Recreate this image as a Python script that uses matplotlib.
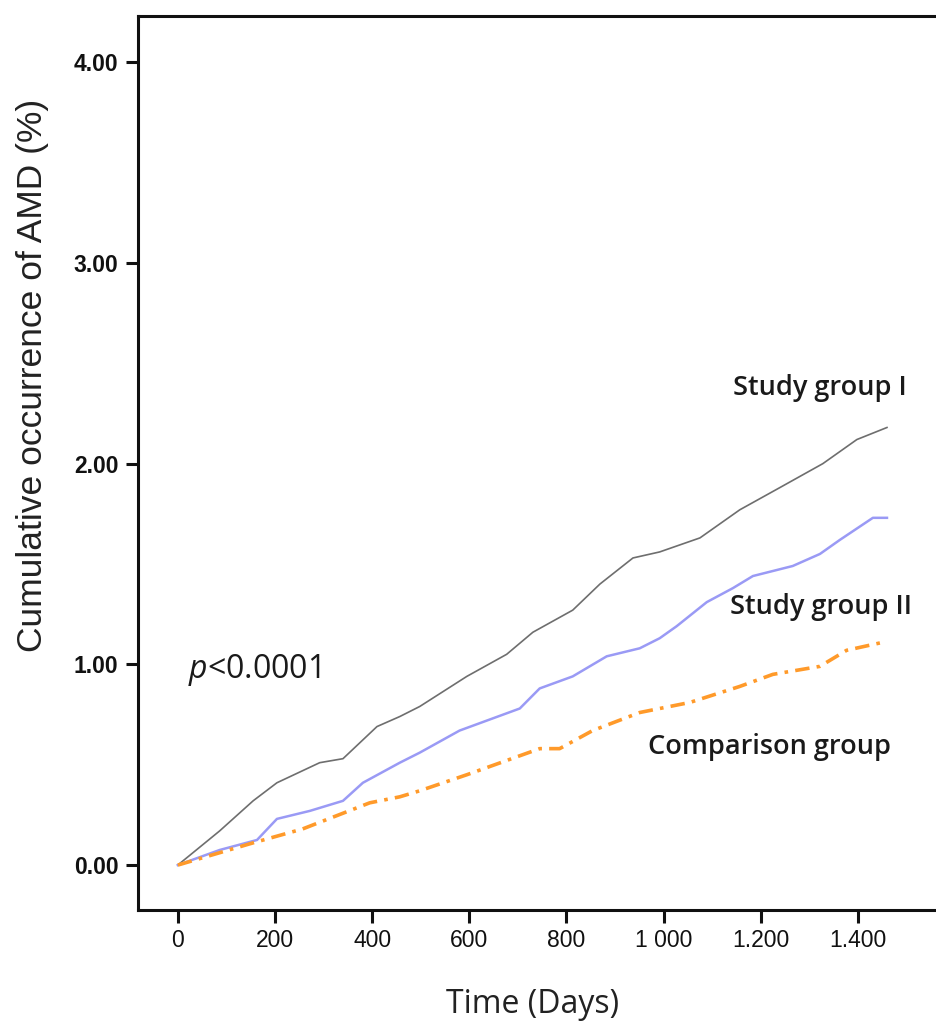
import matplotlib
matplotlib.use('Agg')
from matplotlib import pyplot as plt

# (days, cumulative %)
days_g1 = [0, 86, 155, 204, 292, 340, 410, 457, 498, 595, 677, 731, 813, 869, 937,
           992, 1075, 1157, 1239, 1328, 1398, 1460]
cum_g1 = [0.0, 0.17, 0.32, 0.41, 0.51, 0.53, 0.69, 0.74, 0.79, 0.94, 1.05, 1.16, 1.27,
          1.40, 1.53, 1.56, 1.63, 1.77, 1.88, 2.00, 2.12, 2.18]

days_g2 = [0, 86, 163, 204, 272, 340, 381, 457, 498, 580, 704, 745, 813, 883, 951,
           992, 1027, 1089, 1143, 1184, 1266, 1322, 1363, 1431, 1460]
cum_g2 = [0.0, 0.075, 0.125, 0.23, 0.27, 0.32, 0.41, 0.51, 0.56, 0.67, 0.78, 0.88,
          0.94, 1.04, 1.08, 1.13, 1.19, 1.31, 1.38, 1.44, 1.49, 1.55, 1.62, 1.73, 1.73]

days_cmp = [0, 154, 257, 395, 457, 498, 595, 745, 786, 854, 951, 992, 1054, 1157,
            1225, 1322, 1377, 1452]
cum_cmp = [0.0, 0.11, 0.18, 0.31, 0.34, 0.37, 0.45, 0.58, 0.58, 0.67, 0.76, 0.78,
           0.81, 0.89, 0.95, 0.99, 1.07, 1.11]

xticks = [0, 200, 400, 600, 800, 1000, 1200, 1400]
xtick_labels = ['0', '200', '400', '600', '800', '1 000', '1.200', '1.400']
yticks = [0, 1, 2, 3, 4]
ytick_labels = ['0.00', '1.00', '2.00', '3.00', '4.00']

plt.rcParams['mathtext.fontset'] = 'custom'
plt.rcParams['mathtext.it'] = 'Open Sans:italic'

fig = plt.figure(figsize=(9.37, 10.21), dpi=100)
ax = fig.add_axes([0.1473, 0.1087, 0.8527, 0.8756])

ax.plot(days_g1, cum_g1, color='#6e6e6e', lw=1.2)
ax.plot(days_g2, cum_g2, color='#9a9af5', lw=1.8)
ax.plot(days_cmp, cum_cmp, color='#ff9a2a', lw=2.6, linestyle=(0, (4, 2, 1, 2)))

ax.set_xlim(-82, 1563)
ax.set_ylim(-0.224, 4.23)

ax.spines['right'].set_visible(False)
for s in ['left', 'bottom', 'top']:
    ax.spines[s].set_linewidth(2.2)
    ax.spines[s].set_color('#111111')

ax.set_xticks(xticks)
ax.set_xticklabels(xtick_labels, fontsize=16.5, family=['Liberation Sans', 'DejaVu Sans'])
ax.set_yticks(yticks)
ax.set_yticklabels(ytick_labels, fontsize=16.5, family=['Liberation Sans', 'DejaVu Sans'],
                   fontweight='bold')
ax.tick_params(axis='both', direction='out', length=9, width=2.2, colors='#111111', pad=5)

ax.set_ylabel('Cumulative occurrence of AMD (%)', fontsize=25.5,
              family=['Liberation Sans', 'DejaVu Sans'], color='#222222')
ax.yaxis.set_label_coords(-0.112, 0.598)
ax.set_xlabel('Time (Days)', fontsize=23, family='Open Sans', color='#222222')
ax.xaxis.set_label_coords((533 - 138) / (0.8527 * 937), -0.087)

txt = dict(fontsize=19.5, family='Open Sans', fontweight='semibold', color='#1a1a1a',
           va='center', ha='left')
ax.text(1143, 2.376, 'Study group I', **txt)
ax.text(1136, 1.285, 'Study group II', **txt)
ax.text(968, 0.588, 'Comparison group', **txt)

ax.text(21, 0.97, r'$p$<0.0001', fontsize=23, family='Open Sans', color='#1a1a1a',
        va='center', ha='left')

plt.savefig('out.png', dpi=100)
